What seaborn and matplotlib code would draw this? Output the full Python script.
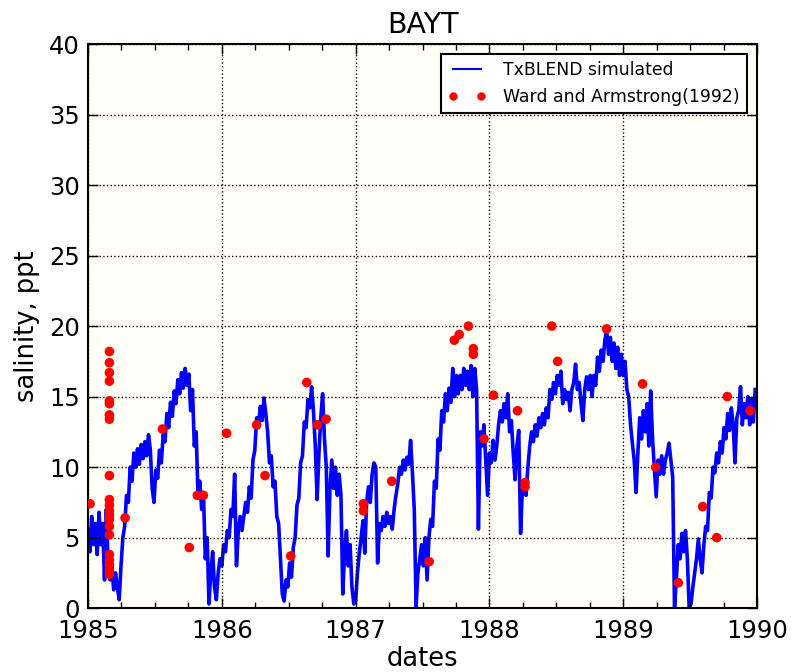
import numpy as np
import pandas as pd
import matplotlib
matplotlib.use("Agg")
import matplotlib.pyplot as plt
from matplotlib.lines import Line2D
import seaborn as sns

# TxBLEND simulated salinity (ppt), one value every 5 days
sim_1985 = [5.5, 4.0, 6.5, 4.5, 6.0, 3.8, 6.8, 4.5, 6.0, 2.0, 7.0, 3.0, 2.0, 3.0, 1.3, 2.5,
            1.5, 0.6, 3.0, 5.0, 5.8, 8.0, 7.5, 10.0, 9.0, 11.0, 10.0, 11.3, 10.2, 11.6, 10.6,
            11.8, 10.8, 12.3, 11.2, 8.5, 7.5, 9.8, 9.2, 11.2, 10.3, 12.3, 11.8, 13.8, 12.8,
            14.6, 13.6, 15.4, 14.5, 16.2, 15.2, 16.7, 15.6, 17.0, 15.8, 16.6, 14.0, 15.5,
            11.5, 12.5, 8.0, 9.0, 7.0, 8.0, 3.5, 5.0, 0.3, 2.5, 4.0, 1.5, 0.6, 2.5, 3.5]
sim_1986 = [3.0, 4.5, 4.0, 5.5, 5.0, 7.0, 6.5, 9.5, 3.0, 5.5, 6.5, 5.5, 6.5, 7.5, 6.8, 8.6,
            7.8, 10.5, 11.2, 13.5, 12.8, 14.3, 13.3, 14.9, 13.8, 12.5, 10.3, 10.8, 8.6, 9.0,
            6.5, 6.0, 3.5, 1.0, 0.5, 2.0, 1.5, 3.2, 2.2, 4.3, 5.0, 7.3, 7.8, 10.3, 10.8, 13.2,
            12.8, 14.8, 14.2, 15.7, 14.0, 11.5, 7.7, 11.0, 13.5, 15.2, 12.0, 10.0, 3.7, 8.5,
            10.5, 8.5, 10.0, 8.0, 9.5, 8.0, 1.0, 4.0, 5.5, 3.0, 4.5, 1.5, 0.3]
sim_1987 = [0.5, 2.5, 3.9, 5.0, 6.2, 3.9, 7.5, 8.6, 7.5, 9.5, 10.3, 10.0, 3.2, 6.0, 5.5, 6.5,
            5.8, 6.8, 6.0, 6.5, 5.6, 7.0, 8.0, 8.8, 10.0, 9.5, 10.5, 9.8, 10.7, 10.2, 11.9,
            9.6, 7.0, 0.1, 2.5, 3.5, 4.5, 3.0, 5.0, 2.0, 5.0, 6.3, 5.8, 9.0, 8.5, 12.0, 11.2,
            14.0, 13.2, 15.2, 14.0, 15.6, 14.6, 17.0, 15.0, 16.5, 15.2, 16.5, 15.5, 17.0,
            15.8, 16.8, 15.5, 17.2, 15.0, 17.0, 15.5, 5.6, 12.5, 11.5, 13.0, 10.5, 8.0]
sim_1988 = [11.0, 10.3, 11.9, 10.5, 11.5, 13.0, 14.0, 13.2, 14.5, 13.5, 15.2, 12.5, 13.3,
            11.0, 9.1, 11.5, 12.6, 5.3, 8.5, 9.0, 8.0, 10.0, 11.5, 12.5, 11.8, 13.0, 12.2,
            13.5, 12.8, 13.8, 13.0, 14.2, 13.5, 15.5, 14.8, 16.0, 15.2, 16.5, 15.8, 16.8,
            14.5, 15.5, 14.8, 15.3, 14.0, 15.5, 16.0, 17.3, 15.5, 16.0, 14.5, 13.3, 15.5,
            16.4, 15.5, 16.5, 15.0, 16.5, 15.8, 17.8, 16.8, 18.3, 17.5, 19.0, 19.7, 18.0,
            19.2, 17.5, 18.8, 17.0, 18.5, 16.5, 18.0]
sim_1989 = [16.5, 17.5, 15.5, 15.0, 13.0, 11.7, 10.5, 8.2, 11.0, 13.5, 12.0, 14.0, 12.5,
            14.5, 11.5, 15.4, 12.0, 10.0, 7.9, 10.5, 9.5, 10.8, 9.5, 10.5, 11.0, 11.7, 10.5,
            9.3, 0.0, 2.0, 4.5, 3.5, 5.3, 4.0, 5.5, 3.5, 0.0, 0.3, 1.5, 2.5, 3.5, 4.9, 3.5,
            2.5, 4.5, 5.8, 5.5, 8.2, 7.8, 10.0, 9.6, 11.0, 10.3, 11.8, 11.0, 12.8, 12.0, 13.8,
            12.6, 14.2, 13.0, 10.3, 13.5, 14.0, 15.7, 13.0, 14.5, 13.5, 15.0, 13.0, 14.8,
            13.2, 15.5]
sim_years = [1985, 1986, 1987, 1988, 1989]

# Ward and Armstrong (1992) observations: decimal year, salinity (ppt)
obs_time = [1985.015,
            1985.16, 1985.16, 1985.16, 1985.16, 1985.16, 1985.16, 1985.16, 1985.16,
            1985.16, 1985.16, 1985.16, 1985.16, 1985.16, 1985.16, 1985.16, 1985.16,
            1985.16, 1985.16, 1985.16, 1985.16, 1985.16,
            1985.277, 1985.556, 1985.757, 1985.817, 1985.862,
            1986.036, 1986.26, 1986.323, 1986.515, 1986.635, 1986.715, 1986.779,
            1987.058, 1987.058, 1987.27, 1987.55, 1987.738, 1987.775, 1987.843,
            1987.88, 1987.88, 1987.96, 1988.03, 1988.21, 1988.266, 1988.266,
            1988.466, 1988.51, 1988.876, 1989.145, 1989.243, 1989.412, 1989.594,
            1989.699, 1989.778, 1989.948]
obs_sal = [7.4,
           18.2, 17.4, 16.7, 16.1, 14.7, 14.5, 13.7, 13.4,
           9.4, 7.7, 7.3, 6.9, 6.6, 6.3, 5.8, 5.2,
           3.8, 3.4, 3.1, 2.7, 2.4,
           6.4, 12.7, 4.3, 8.0, 8.0,
           12.4, 13.0, 9.4, 3.7, 16.0, 13.0, 13.4,
           7.4, 6.9, 9.0, 3.3, 19.0, 19.4, 20.0,
           18.4, 18.0, 12.0, 15.1, 14.0, 8.9, 8.6,
           20.0, 17.5, 19.8, 15.9, 10.0, 1.8, 7.2,
           5.0, 15.0, 14.0]

# build the series (73 five-day steps per year)
sim_values = sim_1985 + sim_1986 + sim_1987 + sim_1988 + sim_1989
sim_time = []
for yr, vals in zip(sim_years, [sim_1985, sim_1986, sim_1987, sim_1988, sim_1989]):
    sim_time += [yr + i / 73.0 for i in range(len(vals))]

sim = pd.DataFrame({'time': sim_time, 'salinity': sim_values})
obs = pd.DataFrame({'time': obs_time, 'salinity': obs_sal})

plt.rcParams['font.family'] = ['DejaVu Sans']

fig = plt.figure(figsize=(7.93, 6.72), dpi=100)
ax = fig.add_axes([0.111, 0.095, 0.8436, 0.8395])
ax.set_facecolor('#fffff5')

sns.lineplot(data=sim, x='time', y='salinity', color='#0000ff', linewidth=2.6,
             sort=False, estimator=None, ax=ax, zorder=2)
sns.scatterplot(data=obs, x='time', y='salinity', color='#ff0000', s=48,
                edgecolor='none', ax=ax, zorder=3)

ax.set_xlim(1985, 1990)
ax.set_ylim(0, 40)
ax.set_xticks([1985, 1986, 1987, 1988, 1989, 1990])
ax.set_xticklabels(['1985', '1986', '1987', '1988', '1989', '1990'])
ax.set_xticks(np.arange(1985, 1990.01, 0.25), minor=True)
ax.set_yticks(range(0, 41, 5))

ax.tick_params(which='both', direction='in', top=True, right=True, labelsize=17.5)
ax.tick_params(which='major', length=7, width=1)
ax.tick_params(which='minor', length=4, width=1)
ax.tick_params(axis='x', pad=8)
ax.tick_params(axis='y', pad=6)
for sp in ax.spines.values():
    sp.set_linewidth(1.5)
    sp.set_color('black')

ax.grid(True, which='major', color='black', linestyle=':', linewidth=1.0)
ax.set_axisbelow(False)

ax.set_title('BAYT', fontsize=20.5, pad=8)
ax.set_xlabel('dates', fontsize=18.5, labelpad=2)
ax.set_ylabel('salinity, ppt', fontsize=18.5, labelpad=6)

handles = [Line2D([], [], color='#0000ff', linewidth=1.5),
           Line2D([], [], color='#ff0000', marker='o', linestyle='none', markersize=5)]
leg = ax.legend(handles, ['TxBLEND simulated', 'Ward and Armstrong(1992)'],
                loc='upper right', numpoints=2, fontsize=12.4, fancybox=False,
                framealpha=1, edgecolor='black', borderaxespad=0.6,
                handlelength=2.2, handletextpad=1.0)
leg.get_frame().set_linewidth(1.5)

fig.savefig('out.png', dpi=100)
